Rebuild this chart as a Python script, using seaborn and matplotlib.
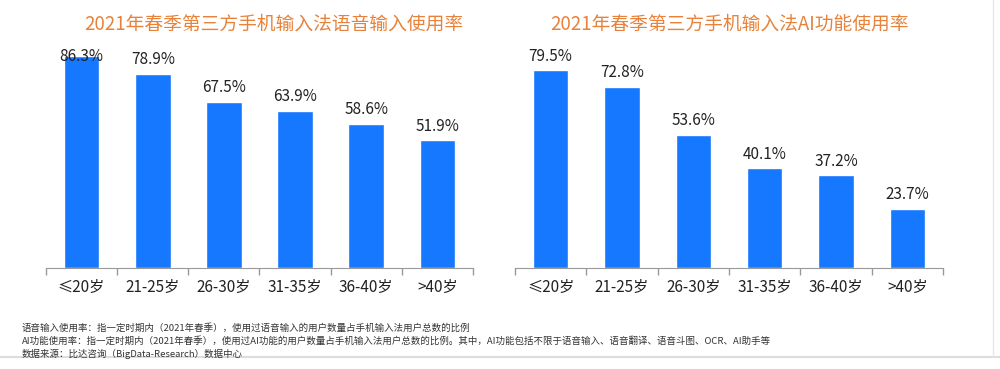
import seaborn as sns
import matplotlib.pyplot as plt
import pandas as pd

# data
ages = ['≤20岁', '21-25岁', '26-30岁', '31-35岁', '36-40岁', '>40岁']
voice_rate = [86.3, 78.9, 67.5, 63.9, 58.6, 51.9]
ai_rate = [79.5, 72.8, 53.6, 40.1, 37.2, 23.7]
titles = ['2021年春季第三方手机输入法语音输入使用率', '2021年春季第三方手机输入法AI功能使用率']
notes = [
    '语音输入使用率：指一定时期内（2021年春季），使用过语音输入的用户数量占手机输入法用户总数的比例',
    'AI功能使用率：指一定时期内（2021年春季），使用过AI功能的用户数量占手机输入法用户总数的比例。其中，AI功能包括不限于语音输入、语音翻译、语音斗图、OCR、AI助手等',
    '数据来源：比达咨询（BigData-Research）数据中心',
]

sns.set_style('white')
plt.rcParams['font.family'] = ['Noto Sans CJK SC', 'DejaVu Sans']

bar_color = '#1677FF'
title_color = '#E8823A'

fig = plt.figure(figsize=(10, 3.69), dpi=100)
ax1 = fig.add_axes([0.046, 0.274, 0.427, 0.59])
ax2 = fig.add_axes([0.515, 0.274, 0.428, 0.59])

for ax, vals, title, ymax, cap, tx in [(ax1, voice_rate, titles[0], 88.6, 82.5, 0.534),
                                       (ax2, ai_rate, titles[1], 87.5, 90, 0.5)]:
    df = pd.DataFrame({'age': ages, 'rate': vals})
    sns.barplot(data=df, x='age', y='rate', color=bar_color, width=0.5,
                saturation=1, ax=ax)
    ax.set_xlim(-0.5, len(ages) - 0.5)
    ax.set_ylim(0, ymax)
    ax.set_xlabel('')
    ax.set_ylabel('')
    ax.set_yticks([])
    for s in ['top', 'right', 'left']:
        ax.spines[s].set_visible(False)
    ax.spines['bottom'].set_color('#999999')
    ax.set_xticks([i - 0.5 for i in range(len(ages) + 1)], minor=True)
    ax.tick_params(axis='x', which='minor', bottom=True, length=5, width=1,
                   color='#999999', direction='out')
    ax.tick_params(axis='x', which='major', length=0, labelsize=11,
                   labelcolor='#222222', pad=8)
    for i, v in enumerate(vals):
        if v + 2 > cap:
            ax.text(i, cap, f'{v}%', ha='center', va='bottom', fontsize=11,
                    color='#222222')
        else:
            ax.annotate(f'{v}%', (i, v), xytext=(0, 4), textcoords='offset points',
                        ha='center', va='bottom', fontsize=11, color='#222222')
    ax.set_title(title, color=title_color, fontsize=13.5, pad=15, x=tx)

for k, line in enumerate(notes):
    fig.text(0.022, 0.112 - k * 0.036, line, fontsize=6.8, color='#333333', va='center')

fig.add_artist(plt.Line2D([0, 1], [0.032, 0.032], color='#dddddd', lw=1.5))
fig.add_artist(plt.Line2D([0.993, 0.993], [0.032, 1], color='#e6e6e6', lw=1))

fig.savefig('out.png', dpi=100)
